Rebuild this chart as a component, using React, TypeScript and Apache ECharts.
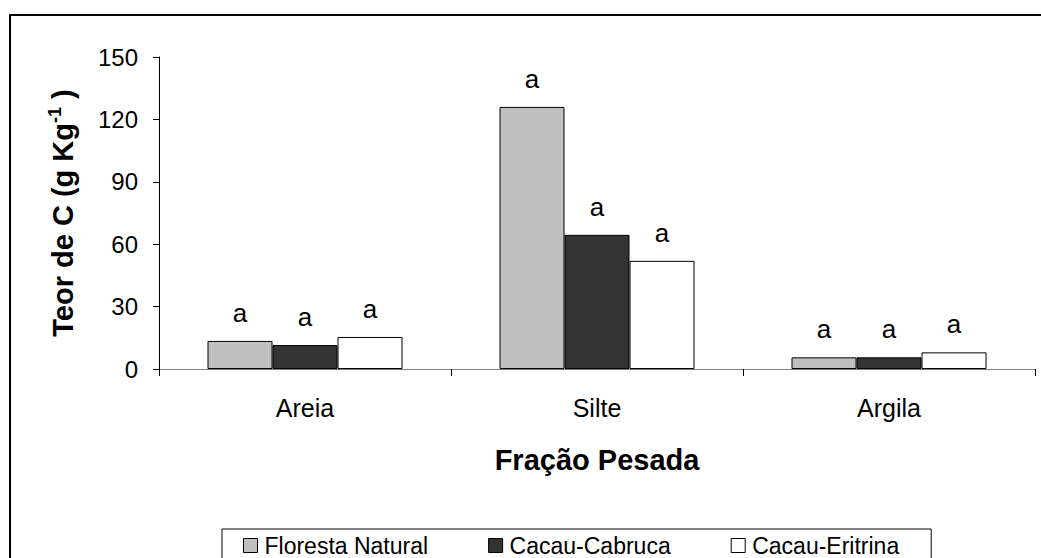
import React, { useEffect, useRef } from "react";
import * as echarts from "echarts";

const categories = ["Areia", "Silte", "Argila"];
const seriesNames = ["Floresta Natural", "Cacau-Cabruca", "Cacau-Eritrina"];
const florestaNatural = [13.5, 126, 5.6];
const cacauCabruca = [11.5, 64.5, 5.6];
const cacauEritrina = [15.4, 52, 8];
const lettersFloresta = ["a", "a", "a"];
const lettersCabruca = ["a", "a", "a"];
const lettersEritrina = ["a", "a", "a"];
const yMin = 0;
const yMax = 150;
const yInterval = 30;

const FONT = "'Liberation Sans', Arial, sans-serif";
const colors = ["#C0C0C0", "#333333", "#FFFFFF"];

export default function App() {
  const ref = useRef<HTMLDivElement>(null);

  useEffect(() => {
    if (!ref.current) return;
    const chart = echarts.init(ref.current, null, { renderer: "svg" });
    const values = [florestaNatural, cacauCabruca, cacauEritrina];
    const letters = [lettersFloresta, lettersCabruca, lettersEritrina];

    chart.setOption({
      animation: false,
      backgroundColor: "#ffffff",
      textStyle: { fontFamily: FONT, color: "#000" },
      graphic: [
        {
          type: "rect",
          shape: { x: 10, y: 15, width: 1040, height: 560 },
          style: { fill: "none", stroke: "#000", lineWidth: 2 },
          silent: true,
          z: -10,
        },
      ],
      grid: { left: 159, right: 6, top: 57, bottom: 189, containLabel: false },
      legend: {
        data: seriesNames,
        left: 222,
        top: 529,
        orient: "horizontal",
        padding: [5, 32, 12, 21],
        itemGap: 60,
        itemWidth: 14,
        itemHeight: 14,
        icon: "rect",
        borderColor: "#000",
        borderWidth: 1,
        itemStyle: { borderColor: "#000", borderWidth: 1 },
        textStyle: {
          fontFamily: FONT,
          fontSize: 23,
          lineHeight: 23,
          color: "#000",
          padding: [0, 0, 0, 2],
        },
      },
      xAxis: {
        type: "category",
        data: categories,
        name: "Fração Pesada",
        nameLocation: "middle",
        nameGap: 76,
        nameTextStyle: { fontFamily: FONT, fontSize: 29, fontWeight: "bold", color: "#000" },
        axisLine: { lineStyle: { color: "#808080", width: 1 } },
        axisTick: { show: true, length: 7, lineStyle: { color: "#000" } },
        axisLabel: { fontFamily: FONT, fontSize: 25, color: "#000", margin: 26 },
      },
      yAxis: {
        type: "value",
        min: yMin,
        max: yMax,
        interval: yInterval,
        name: "{b|Teor de C (g Kg}{sup|-1}{b| )}",
        nameLocation: "middle",
        nameRotate: 90,
        nameGap: 80,
        nameTextStyle: {
          rich: {
            b: { fontFamily: FONT, fontSize: 29, fontWeight: "bold", color: "#000" },
            sup: {
              fontFamily: FONT,
              fontSize: 18,
              fontWeight: "bold",
              color: "#000",
              padding: [0, 0, 15, 0],
            },
          },
        },
        axisLine: { show: true, lineStyle: { color: "#000", width: 1 } },
        axisTick: { show: true, length: 6, lineStyle: { color: "#000" } },
        axisLabel: { fontFamily: FONT, fontSize: 24, color: "#000", margin: 21 },
        splitLine: { show: false },
      },
      series: seriesNames.map((name, i) => ({
        name,
        type: "bar",
        data: values[i],
        barWidth: 65,
        barGap: "0%",
        itemStyle: { color: colors[i], borderColor: "#000", borderWidth: 1 },
        label: {
          show: true,
          position: "top",
          distance: 15,
          fontFamily: FONT,
          fontSize: 26,
          color: "#000",
          formatter: (p: any) => letters[i][p.dataIndex],
        },
      })),
    });

    return () => chart.dispose();
  }, []);

  return (
    <div
      ref={ref}
      style={{ position: "fixed", left: 0, top: 0, width: 1041, height: 558, background: "#fff" }}
    />
  );
}
